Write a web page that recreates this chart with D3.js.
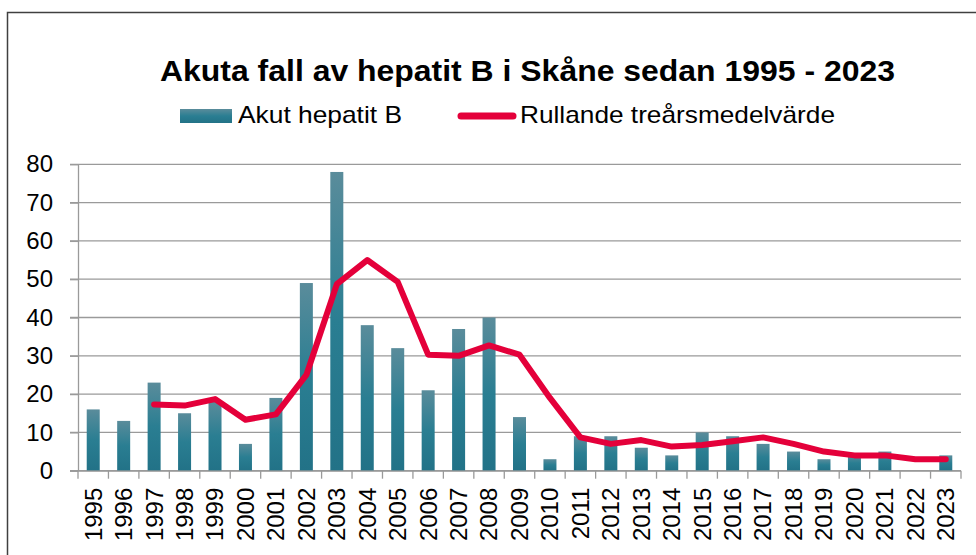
<!DOCTYPE html>
<html lang="sv">

<head>
    <meta charset="UTF-8">
    <title>Akuta fall av hepatit B i Skåne</title>
    <script src="https://d3js.org/d3.v7.min.js"></script>
    <style>
        body {
            margin: 0;
            font-family: "Liberation Sans", Arial, sans-serif;
            background: white;
        }

        .tick text {
            font-size: 24px;
            fill: black;
        }
    </style>
</head>

<body>
    <div id="chart"></div>

    <script>
        const years = ["1995", "1996", "1997", "1998", "1999", "2000", "2001", "2002", "2003", "2004",
            "2005", "2006", "2007", "2008", "2009", "2010", "2011", "2012", "2013", "2014",
            "2015", "2016", "2017", "2018", "2019", "2020", "2021", "2022", "2023"];
        const cases = [16, 13, 23, 15, 18, 7, 19, 49, 78, 38,
            32, 21, 37, 40, 14, 3, 9, 9, 6, 4,
            10, 9, 7, 5, 3, 4, 5, 0, 4];
        const rolling = [null, null, 17.3, 17, 18.7, 13.3, 14.7, 25, 48.7, 55,
            49.3, 30.3, 30, 32.7, 30.3, 19, 8.7, 7, 8, 6.3,
            6.7, 7.7, 8.7, 7, 5, 4, 4, 3, 3];
        const yTicks = [0, 10, 20, 30, 40, 50, 60, 70, 80];

        const width = 976, height = 555;
        const plotLeft = 78, plotRight = 961, plotTop = 164.3, plotBottom = 470.7;

        const svg = d3.select("#chart")
            .append("svg")
            .attr("width", width)
            .attr("height", height);

        const defs = svg.append("defs");
        const grad = defs.append("linearGradient")
            .attr("id", "barGrad")
            .attr("x1", 0).attr("y1", 0).attr("x2", 0).attr("y2", 1);
        grad.append("stop").attr("offset", "0%").attr("stop-color", "#5a8c9b");
        grad.append("stop").attr("offset", "50%").attr("stop-color", "#2a7e92");
        grad.append("stop").attr("offset", "100%").attr("stop-color", "#227287");

        svg.append("rect")
            .attr("width", width).attr("height", height)
            .attr("fill", "white");

        // chart frame (cut off at right and bottom)
        svg.append("rect")
            .attr("x", 7.5).attr("y", 12.5)
            .attr("width", 1000).attr("height", 600)
            .attr("fill", "none")
            .attr("stroke", "#404040")
            .attr("stroke-width", 1.5);

        const x = d3.scaleBand()
            .domain(years)
            .range([plotLeft, plotRight])
            .paddingInner(0.573)
            .paddingOuter(0.2865);

        const xCell = d3.scaleBand()
            .domain(years)
            .range([plotLeft, plotRight])
            .padding(0);

        const y = d3.scaleLinear()
            .domain([0, 80])
            .range([plotBottom, plotTop]);

        // gridlines
        svg.append("g")
            .selectAll("line")
            .data(yTicks)
            .enter().append("line")
            .attr("x1", plotLeft - 8).attr("x2", plotRight)
            .attr("y1", d => y(d)).attr("y2", d => y(d))
            .attr("stroke", "#9a9a9a")
            .attr("stroke-width", 1.3);

        // y axis
        const yAxis = svg.append("g")
            .attr("transform", `translate(${plotLeft},0)`)
            .call(d3.axisLeft(y).tickValues(yTicks).tickSize(8).tickPadding(17));
        yAxis.selectAll("line, path").attr("stroke", "#9a9a9a").attr("stroke-width", 1.3);
        yAxis.select(".domain").attr("d", `M0.5,${plotTop}V${plotBottom}`);

        // bars
        svg.append("g")
            .selectAll("rect")
            .data(cases)
            .enter().append("rect")
            .attr("x", (d, i) => x(years[i]))
            .attr("width", x.bandwidth())
            .attr("y", d => y(d))
            .attr("height", d => plotBottom - y(d))
            .attr("fill", "url(#barGrad)");

        // x axis
        const xAxis = svg.append("g")
            .attr("transform", `translate(0,${plotBottom})`)
            .call(d3.axisBottom(x).tickSize(0).tickPadding(0));
        xAxis.select(".domain").attr("stroke", "#9a9a9a").attr("stroke-width", 1.3)
            .attr("d", `M${plotLeft - 8},0.5H${plotRight}`);
        xAxis.selectAll("text")
            .attr("transform", "rotate(-90)")
            .attr("x", -17)
            .attr("y", 0)
            .attr("dy", "0.35em")
            .style("text-anchor", "end");

        // boundary tick marks between categories
        svg.append("g")
            .selectAll("line")
            .data(years.map(d => xCell(d)).concat([plotRight]))
            .enter().append("line")
            .attr("x1", d => d).attr("x2", d => d)
            .attr("y1", plotBottom).attr("y2", plotBottom + 8)
            .attr("stroke", "#9a9a9a")
            .attr("stroke-width", 1.3);

        // rolling average line
        const line = d3.line()
            .defined(d => d !== null)
            .x((d, i) => x(years[i]) + x.bandwidth() / 2)
            .y(d => y(d));

        svg.append("path")
            .datum(rolling)
            .attr("d", line)
            .attr("fill", "none")
            .attr("stroke", "#e4003a")
            .attr("stroke-width", 6)
            .attr("stroke-linejoin", "round")
            .attr("stroke-linecap", "round");

        // title
        svg.append("text")
            .attr("x", 160)
            .attr("y", 81)
            .attr("textLength", 735)
            .attr("lengthAdjust", "spacingAndGlyphs")
            .style("font-size", "30px")
            .style("font-weight", "bold")
            .text("Akuta fall av hepatit B i Skåne sedan 1995 - 2023");

        // legend
        svg.append("rect")
            .attr("x", 180).attr("y", 109)
            .attr("width", 52).attr("height", 14)
            .attr("fill", "url(#barGrad)");
        svg.append("text")
            .attr("x", 238).attr("y", 123)
            .attr("textLength", 164)
            .attr("lengthAdjust", "spacingAndGlyphs")
            .style("font-size", "24px")
            .text("Akut hepatit B");

        svg.append("line")
            .attr("x1", 461).attr("x2", 513)
            .attr("y1", 116).attr("y2", 116)
            .attr("stroke", "#e4003a")
            .attr("stroke-width", 7)
            .attr("stroke-linecap", "round");
        svg.append("text")
            .attr("x", 520).attr("y", 123)
            .attr("textLength", 315)
            .attr("lengthAdjust", "spacingAndGlyphs")
            .style("font-size", "24px")
            .text("Rullande treårsmedelvärde");
    </script>
</body>

</html>
